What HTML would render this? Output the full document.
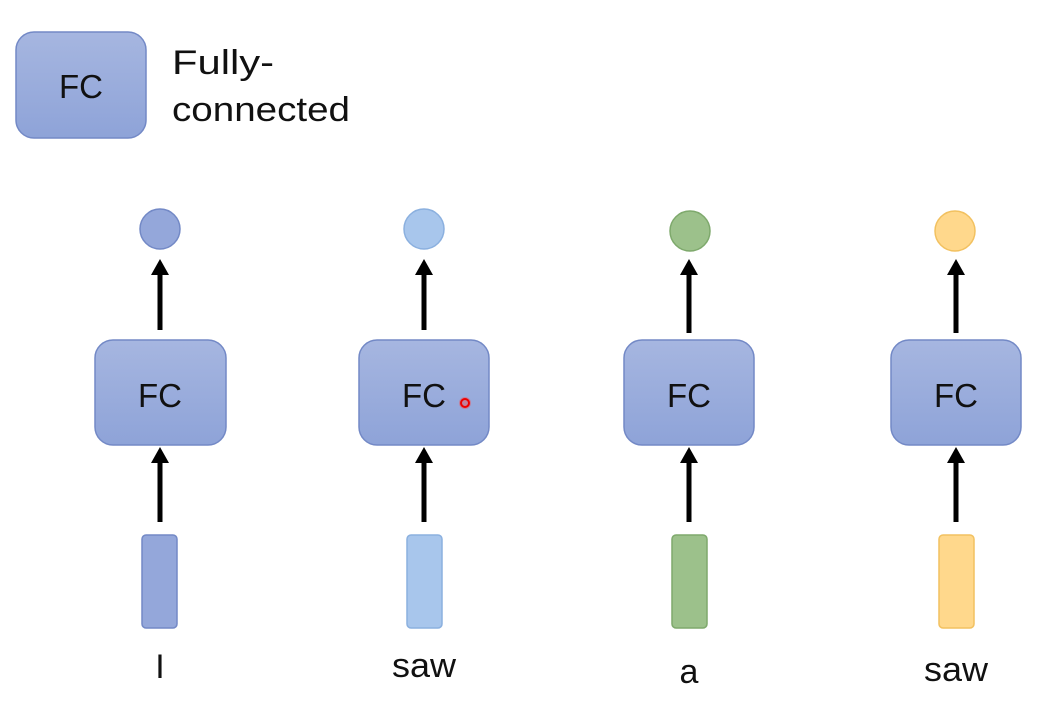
<!DOCTYPE html>
<html><head><meta charset="utf-8"><style>
body{margin:0;width:1040px;height:715px;background:#fff;overflow:hidden;font-family:"Liberation Sans",sans-serif;}
</style></head><body>
<svg width="1040" height="715" xmlns="http://www.w3.org/2000/svg">
<defs>
<linearGradient id="g" x1="0" y1="0" x2="0" y2="1"><stop offset="0" stop-color="#a6b6e0"/><stop offset="1" stop-color="#8ea3d8"/></linearGradient>
</defs>
<rect x="16" y="32" width="130" height="106" rx="18" fill="url(#g)" stroke="#7389c6" stroke-width="1.5"/>
<text x="81" y="98" font-size="33" text-anchor="middle" fill="#111">FC</text>
<text x="172" y="74" font-size="34" fill="#111" textLength="102" lengthAdjust="spacingAndGlyphs">Fully-</text>
<text x="172" y="121" font-size="34" fill="#111" textLength="178" lengthAdjust="spacingAndGlyphs">connected</text>
<g stroke-width="5" stroke="#000">
<line x1="160" y1="330" x2="160" y2="272"/><line x1="424" y1="330" x2="424" y2="272"/><line x1="689" y1="333" x2="689" y2="272"/><line x1="956" y1="333" x2="956" y2="272"/>
<line x1="160" y1="522" x2="160" y2="460"/><line x1="424" y1="522" x2="424" y2="460"/><line x1="689" y1="522" x2="689" y2="460"/><line x1="956" y1="522" x2="956" y2="460"/>
</g>
<g fill="#000">
<path d="M151,275 L160,259 L169,275z"/><path d="M415,275 L424,259 L433,275z"/><path d="M680,275 L689,259 L698,275z"/><path d="M947,275 L956,259 L965,275z"/>
<path d="M151,463 L160,447 L169,463z"/><path d="M415,463 L424,447 L433,463z"/><path d="M680,463 L689,447 L698,463z"/><path d="M947,463 L956,447 L965,463z"/>
</g>
<g stroke="#7389c6" stroke-width="1.5" fill="url(#g)">
<rect x="95" y="340" width="131" height="105" rx="18"/>
<rect x="359" y="340" width="130" height="105" rx="18"/>
<rect x="624" y="340" width="130" height="105" rx="18"/>
<rect x="891" y="340" width="130" height="105" rx="18"/>
</g>
<g font-size="33" fill="#111" text-anchor="middle">
<text x="160" y="407">FC</text><text x="424" y="407">FC</text><text x="689" y="407">FC</text><text x="956" y="407">FC</text>
</g>
<circle cx="465" cy="403" r="6" fill="#f44" opacity="0.4"/>
<circle cx="465" cy="403" r="4" fill="none" stroke="#e00" stroke-width="2"/>
<circle cx="160" cy="229" r="20" fill="#94a7da" stroke="#7389c6" stroke-width="1.5"/>
<circle cx="424" cy="229" r="20" fill="#a8c6ec" stroke="#8bb0df" stroke-width="1.5"/>
<circle cx="690" cy="231" r="20" fill="#9cc18b" stroke="#7ea96c" stroke-width="1.5"/>
<circle cx="955" cy="231" r="20" fill="#ffd88c" stroke="#f2c160" stroke-width="1.5"/>
<rect x="142" y="535" width="35" height="93" rx="4" fill="#94a7da" stroke="#7389c6" stroke-width="1.5"/>
<rect x="407" y="535" width="35" height="93" rx="4" fill="#a8c6ec" stroke="#8bb0df" stroke-width="1.5"/>
<rect x="672" y="535" width="35" height="93" rx="4" fill="#9cc18b" stroke="#7ea96c" stroke-width="1.5"/>
<rect x="939" y="535" width="35" height="93" rx="4" fill="#ffd88c" stroke="#f2c160" stroke-width="1.5"/>
<g font-size="34" fill="#111" text-anchor="middle">
<text x="160" y="678">I</text><text x="424" y="677" textLength="64" lengthAdjust="spacingAndGlyphs">saw</text><text x="689" y="683">a</text><text x="956" y="681" textLength="64" lengthAdjust="spacingAndGlyphs">saw</text>
</g>
</svg>
</body></html>
